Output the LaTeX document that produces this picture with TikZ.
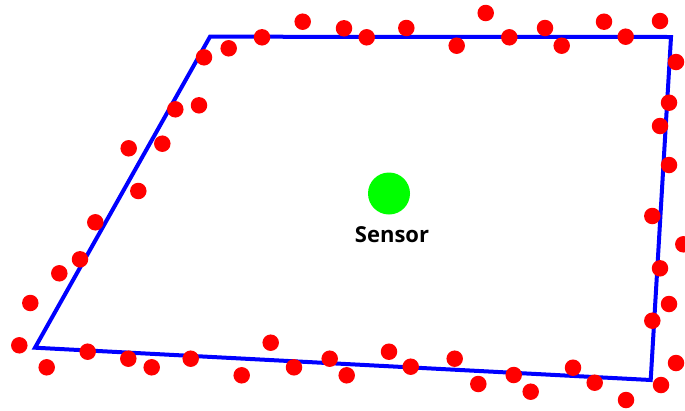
\documentclass[tikz,border=0pt]{standalone}
\usepackage{fontspec}
\setmainfont{Open Sans}
\begin{document}
\begin{tikzpicture}[x=1pt,y=-1pt,
  dot/.style={circle,fill={rgb,255:red,255;green,0;blue,0},inner sep=0pt,minimum size=16.5pt},
  sensordot/.style={circle,fill={rgb,255:red,0;green,255;blue,0},inner sep=0pt,minimum size=42pt},
  border/.style={draw={rgb,255:red,0;green,0;blue,255},line width=4pt,line join=miter}]
\useasboundingbox (0,0) rectangle (685,410);
\clip (0,0) rectangle (685,410);
\coordinate (tl) at (210,36.7);
\coordinate (tr) at (671,37);
\coordinate (br) at (650.7,380);
\coordinate (bl) at (35,347.7);
\draw[border] (tl) -- (tr) -- (br) -- (bl) -- cycle;
\node[sensordot] (sensor) at (389,193.5) {};
\node[font=\bfseries\fontsize{22}{26}\selectfont,anchor=base] (label) at (392,242) {Sensor};
\foreach \x/\y [count=\i] in {
 302.7/21.7, 344/28.3, 262/37.3, 228.7/48.3, 204/57.3, 175.3/109.3, 199/105.3,
 128.7/148.3, 162.3/143.7, 138.3/191,
 366.7/37.3, 406.3/28, 485.7/13, 456.7/45.7, 509.3/37.3, 545/28, 561.7/45.7,
 604/21.7, 625.7/36.7, 660/21, 676/62, 669/102.7, 660/126, 669/165,
 95.3/222.3, 80/259.3, 59.3/273.3, 30.3/303, 19.3/345.3, 46.7/367.3, 87.7/351.7,
 128.3/358.7, 151.7/367.3, 190.7/358.7, 241.7/375.3, 270.7/342.7, 294/367.3,
 329.7/358.7, 346.7/375.3,
 652.3/216, 683.3/244.3, 660/268.3, 669/304, 652.3/320.7, 676/363, 661/385, 626/400,
 389/351.7, 410.7/366.7, 454.7/358.7, 478.3/384, 513.7/375, 530.7/391.7,
 573/367.7, 594.7/382.7}
 \node[dot] (d\i) at (\x,\y) {};
\end{tikzpicture}
\end{document}
